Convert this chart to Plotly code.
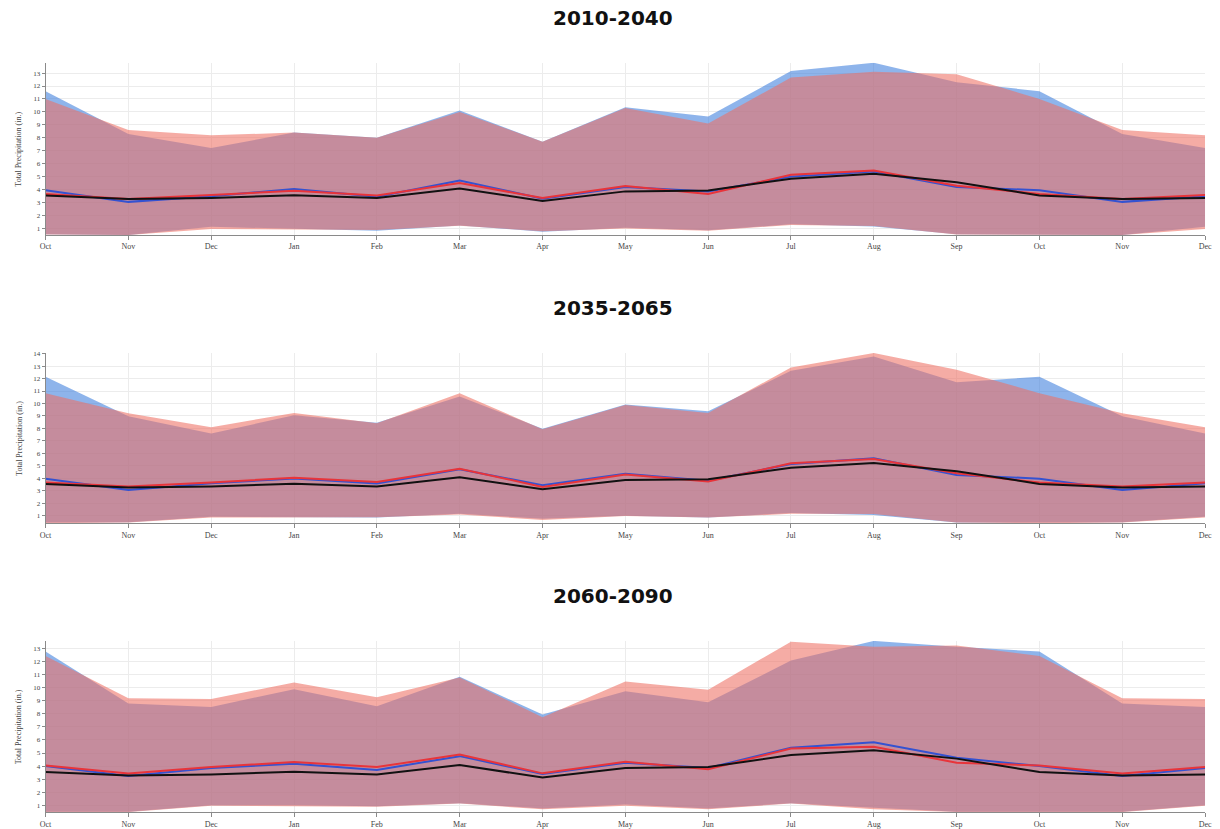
import plotly.graph_objects as go

# Month axis (water year Oct..Sep, then Oct..Dec again)
months = ["Oct", "Nov", "Dec", "Jan", "Feb", "Mar", "Apr", "May", "Jun",
          "Jul", "Aug", "Sep", "Oct", "Nov", "Dec"]

# Observed (historical) monthly precipitation, shared by all panels
observed = [3.55, 3.27, 3.35, 3.57, 3.35, 4.08, 3.12, 3.86, 3.92, 4.84, 5.22, 4.57, 3.55, 3.27, 3.35]

periods = ["2010-2040", "2035-2065", "2060-2090"]

# 2010-2040
p1_blue_max = [11.6, 8.3, 7.22, 8.4, 8.0, 10.1, 7.7, 10.35, 9.65, 13.15, 13.8, 12.3, 11.6, 8.3, 7.22]
p1_blue_min = [0.55, 0.5, 1.12, 0.95, 0.82, 1.22, 0.75, 1.05, 0.85, 1.32, 1.15, 0.55, 0.55, 0.5, 1.12]
p1_red_max = [11.0, 8.6, 8.19, 8.4, 8.0, 10.0, 7.7, 10.3, 9.1, 12.65, 13.1, 12.9, 11.0, 8.6, 8.19]
p1_red_min = [0.52, 0.5, 0.95, 0.9, 0.88, 1.2, 0.78, 1.0, 0.82, 1.27, 1.18, 0.52, 0.52, 0.5, 0.95]
p1_blue_mean = [3.95, 3.05, 3.48, 4.05, 3.45, 4.7, 3.3, 4.2, 3.85, 5.0, 5.4, 4.2, 3.95, 3.05, 3.48]
p1_red_mean = [3.66, 3.27, 3.58, 3.9, 3.55, 4.5, 3.35, 4.28, 3.66, 5.15, 5.47, 4.3, 3.66, 3.27, 3.58]

# 2035-2065
p2_blue_max = [12.15, 8.97, 7.6, 9.05, 8.45, 10.57, 7.98, 9.92, 9.37, 12.62, 13.76, 11.7, 12.15, 8.97, 7.6]
p2_blue_min = [0.45, 0.47, 0.92, 0.87, 0.85, 1.15, 0.75, 1.0, 0.85, 1.22, 1.05, 0.45, 0.45, 0.47, 0.92]
p2_red_max = [10.83, 9.22, 8.1, 9.24, 8.42, 10.83, 7.93, 9.88, 9.24, 12.88, 14.05, 12.7, 10.83, 9.22, 8.1]
p2_red_min = [0.4, 0.45, 0.85, 0.85, 0.87, 1.1, 0.65, 0.98, 0.85, 1.15, 1.13, 0.45, 0.4, 0.45, 0.85]
p2_blue_mean = [3.97, 3.07, 3.6, 3.98, 3.58, 4.72, 3.45, 4.37, 3.8, 5.15, 5.6, 4.27, 3.97, 3.07, 3.6]
p2_red_mean = [3.66, 3.34, 3.66, 4.05, 3.71, 4.77, 3.31, 4.3, 3.74, 5.2, 5.55, 4.4, 3.66, 3.34, 3.66]

# 2060-2090
p3_blue_max = [12.78, 8.79, 8.53, 9.9, 8.58, 10.85, 7.95, 9.73, 8.89, 12.09, 13.6, 13.15, 12.78, 8.79, 8.53]
p3_blue_min = [0.5, 0.5, 1.0, 1.0, 0.92, 1.15, 0.75, 1.05, 0.75, 1.15, 0.8, 0.5, 0.5, 0.5, 1.0]
p3_red_max = [12.45, 9.2, 9.14, 10.41, 9.27, 10.8, 7.75, 10.49, 9.85, 13.54, 13.16, 13.25, 12.45, 9.2, 9.14]
p3_red_min = [0.48, 0.47, 0.95, 0.92, 0.88, 1.12, 0.68, 0.95, 0.68, 1.12, 0.69, 0.48, 0.48, 0.47, 0.95]
p3_blue_mean = [4.0, 3.24, 3.85, 4.18, 3.7, 4.76, 3.4, 4.25, 3.85, 5.4, 5.83, 4.64, 4.0, 3.24, 3.85]
p3_red_mean = [4.05, 3.42, 3.92, 4.31, 3.92, 4.89, 3.44, 4.33, 3.75, 5.35, 5.48, 4.26, 4.05, 3.42, 3.92]

panels = [
    (p1_blue_min, p1_blue_max, p1_red_min, p1_red_max, p1_blue_mean, p1_red_mean),
    (p2_blue_min, p2_blue_max, p2_red_min, p2_red_max, p2_blue_mean, p2_red_mean),
    (p3_blue_min, p3_blue_max, p3_red_min, p3_red_max, p3_blue_mean, p3_red_mean),
]

W, H = 1220, 829
x_dom = [40 / W, 1212 / W]
# pixel top/bottom of each plotting area
panel_px = [(60, 233), (351.7, 522.7), (641, 813)]

BLUE_FILL = "rgba(60,125,220,0.58)"
RED_FILL = "rgba(238,112,100,0.58)"
BLUE_LINE = "#3452d1"
RED_LINE = "#e8343a"
AXIS_FONT = dict(family="Liberation Serif", size=8, color="#444")

x = list(range(len(months)))
fig = go.Figure()
layout = dict(
    width=W, height=H, margin=dict(l=0, r=0, t=0, b=0),
    paper_bgcolor="white", plot_bgcolor="white", showlegend=False,
)
annotations = []

for i, (bmin, bmax, rmin, rmax, bmean, rmean) in enumerate(panels):
    n = "" if i == 0 else str(i + 1)
    xa, ya = "x" + n, "y" + n

    def band(lo, hi, color):
        fig.add_trace(go.Scatter(x=x, y=lo, xaxis=xa, yaxis=ya, mode="lines",
                                 line=dict(width=0), hoverinfo="skip"))
        fig.add_trace(go.Scatter(x=x, y=hi, xaxis=xa, yaxis=ya, mode="lines",
                                 line=dict(width=0), fill="tonexty",
                                 fillcolor=color, hoverinfo="skip"))

    band(bmin, bmax, BLUE_FILL)
    band(rmin, rmax, RED_FILL)
    fig.add_trace(go.Scatter(x=x, y=bmean, xaxis=xa, yaxis=ya, mode="lines",
                             line=dict(color=BLUE_LINE, width=2)))
    fig.add_trace(go.Scatter(x=x, y=rmean, xaxis=xa, yaxis=ya, mode="lines",
                             line=dict(color=RED_LINE, width=2)))
    fig.add_trace(go.Scatter(x=x, y=observed, xaxis=xa, yaxis=ya, mode="lines",
                             line=dict(color="#111", width=2)))

    all_vals = bmin + bmax + rmin + rmax + bmean + rmean + observed
    lo, hi = min(all_vals), max(all_vals)
    top_px, bot_px = panel_px[i]
    y_dom = [1 - bot_px / H, 1 - top_px / H]

    layout["xaxis" + n] = dict(
        domain=x_dom, anchor=ya, range=[0, len(months) - 1],
        tickmode="array", tickvals=x, ticktext=months,
        showline=True, linecolor="#8a8a8a", linewidth=1,
        ticks="outside", ticklen=4, tickcolor="#8a8a8a",
        showgrid=True, gridcolor="#ececec", gridwidth=1,
        zeroline=False, tickfont=AXIS_FONT,
    )
    layout["yaxis" + n] = dict(
        domain=y_dom, anchor=xa, range=[lo, hi],
        tickmode="linear", tick0=0, dtick=1,
        showline=True, linecolor="#8a8a8a", linewidth=1,
        ticks="outside", ticklen=3, tickcolor="#8a8a8a",
        showgrid=True, gridcolor="#ececec", gridwidth=1,
        zeroline=False, tickfont=dict(family="Liberation Serif", size=7, color="#444"),
    )
    annotations.append(dict(
        text="<b>" + periods[i] + "</b>", xref="paper", yref="paper",
        x=614 / W, y=1 - (top_px - 45) / H, xanchor="center", yanchor="middle",
        showarrow=False, font=dict(family="DejaVu Sans", size=20, color="#111"),
    ))
    annotations.append(dict(
        text="Total Precipitation (in.)", xref="paper", yref="paper",
        x=13 / W, y=(y_dom[0] + y_dom[1]) / 2, xanchor="center", yanchor="middle",
        textangle=-90, showarrow=False,
        font=dict(family="Liberation Serif", size=8, color="#444"),
    ))

layout["annotations"] = annotations
fig.update_layout(**layout)
fig.write_html("out.html")
